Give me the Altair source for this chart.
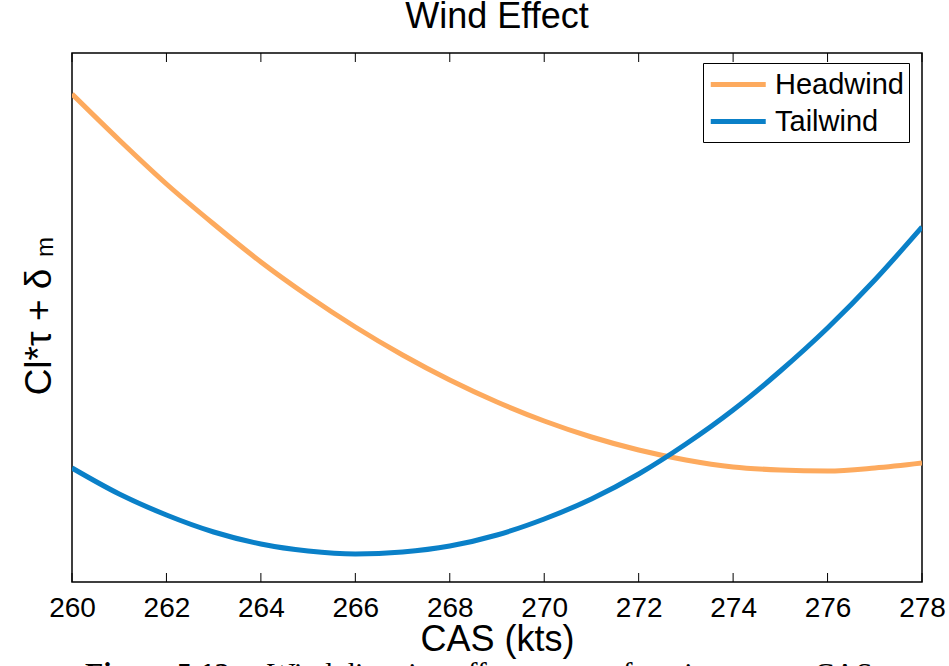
import altair as alt
import pandas as pd

cas = [260, 261, 262, 263, 264, 265, 266, 267, 268, 269, 270,
       271, 272, 273, 274, 275, 276, 277, 278]
headwind = [488, 442, 398, 358, 320, 286, 255, 227, 202, 180, 161,
            145, 132, 122, 115, 112, 111, 114, 119]
tailwind = [114, 88, 67, 50, 38, 31, 28, 30, 36, 47, 63,
            83, 108, 138, 172, 211, 254, 302, 355]
series = ["Headwind", "Tailwind"]
colors = ["#FDAA5E", "#0A80C8"]
x_ticks = [260, 262, 264, 266, 268, 270, 272, 274, 276, 278]

rows = []
for name, vals in zip(series, [headwind, tailwind]):
    for xv, yv in zip(cas, vals):
        rows.append({"CAS": xv, "value": yv, "series": name})
df = pd.DataFrame(rows)
ticks_df = pd.DataFrame({"t": x_ticks})

W, H = 850, 529
FONT = "Liberation Sans"

xscale = alt.Scale(domain=[260, 278], nice=False, zero=False)
yscale = alt.Scale(domain=[0, 529], nice=False, zero=False)

lines = alt.Chart(df).mark_line(strokeWidth=5, interpolate="monotone", clip=True).encode(
    x=alt.X("CAS:Q", scale=xscale,
            axis=alt.Axis(values=x_ticks, title="CAS (kts)", grid=False, domain=False,
                          tickSize=0, labelPadding=12, labelFontSize=28, labelFont=FONT,
                          labelColor="black", titleFontSize=36, titleFont=FONT,
                          titleFontWeight="normal", titleColor="black", titlePadding=0,
                          labelFlush=False, labelOverlap=False)),
    y=alt.Y("value:Q", scale=yscale, axis=None),
    color=alt.Color("series:N", scale=alt.Scale(domain=series, range=colors),
                    legend=alt.Legend(title=None, orient="none", legendX=631, legendY=10,
                                      strokeColor="black", fillColor="white", padding=5,
                                      symbolType="M-1,0H3", symbolStrokeWidth=5,
                                      symbolSize=756, labelFontSize=29, labelFont=FONT,
                                      labelColor="black", labelOffset=34, rowPadding=5,
                                      cornerRadius=0)),
    order=alt.Order("series:N"),
)

bottom_ticks = alt.Chart(ticks_df).mark_rule(color="black", strokeWidth=1).encode(
    x=alt.X("t:Q", scale=xscale), y=alt.value(H), y2=alt.value(H - 9))
top_ticks = alt.Chart(ticks_df).mark_rule(color="black", strokeWidth=1).encode(
    x=alt.X("t:Q", scale=xscale), y=alt.value(0), y2=alt.value(9))

ytitle = alt.Chart(pd.DataFrame({"s": ["Cl*τ + δ"]})).mark_text(
    angle=270, fontSize=37, font=FONT, align="center", baseline="alphabetic", color="black"
).encode(text="s:N", x=alt.value(-21), y=alt.value(279))
ysub = alt.Chart(pd.DataFrame({"s": ["m"]})).mark_text(
    angle=270, fontSize=24, font=FONT, align="center", baseline="alphabetic", color="black"
).encode(text="s:N", x=alt.value(-19), y=alt.value(194))

cap1 = alt.Chart(pd.DataFrame({"s": ["Figure 5.12:"]})).mark_text(
    fontSize=30, font="Liberation Serif", fontWeight="bold", align="left",
    baseline="alphabetic", color="black"
).encode(text="s:N", x=alt.value(13), y=alt.value(630))
cap2 = alt.Chart(pd.DataFrame({"s": ["Wind direction effect on cost function versus CAS"]})).mark_text(
    fontSize=30, font="Liberation Serif", align="left", baseline="alphabetic", color="black"
).encode(text="s:N", x=alt.value(195), y=alt.value(630))

chart = alt.layer(lines, bottom_ticks, top_ticks, ytitle, ysub, cap1, cap2).properties(
    width=W, height=H,
    title=alt.TitleParams("Wind Effect", fontSize=36, font=FONT, fontWeight="normal",
                          color="black", anchor="middle", offset=17),
    autosize=alt.AutoSizeParams(type="none"),
    padding={"left": 72, "top": 53, "right": 27, "bottom": 84},
    background="white",
).configure_view(stroke="black", strokeWidth=1.5)

chart.save("out.html", embed_options={"renderer": "svg", "actions": False})
